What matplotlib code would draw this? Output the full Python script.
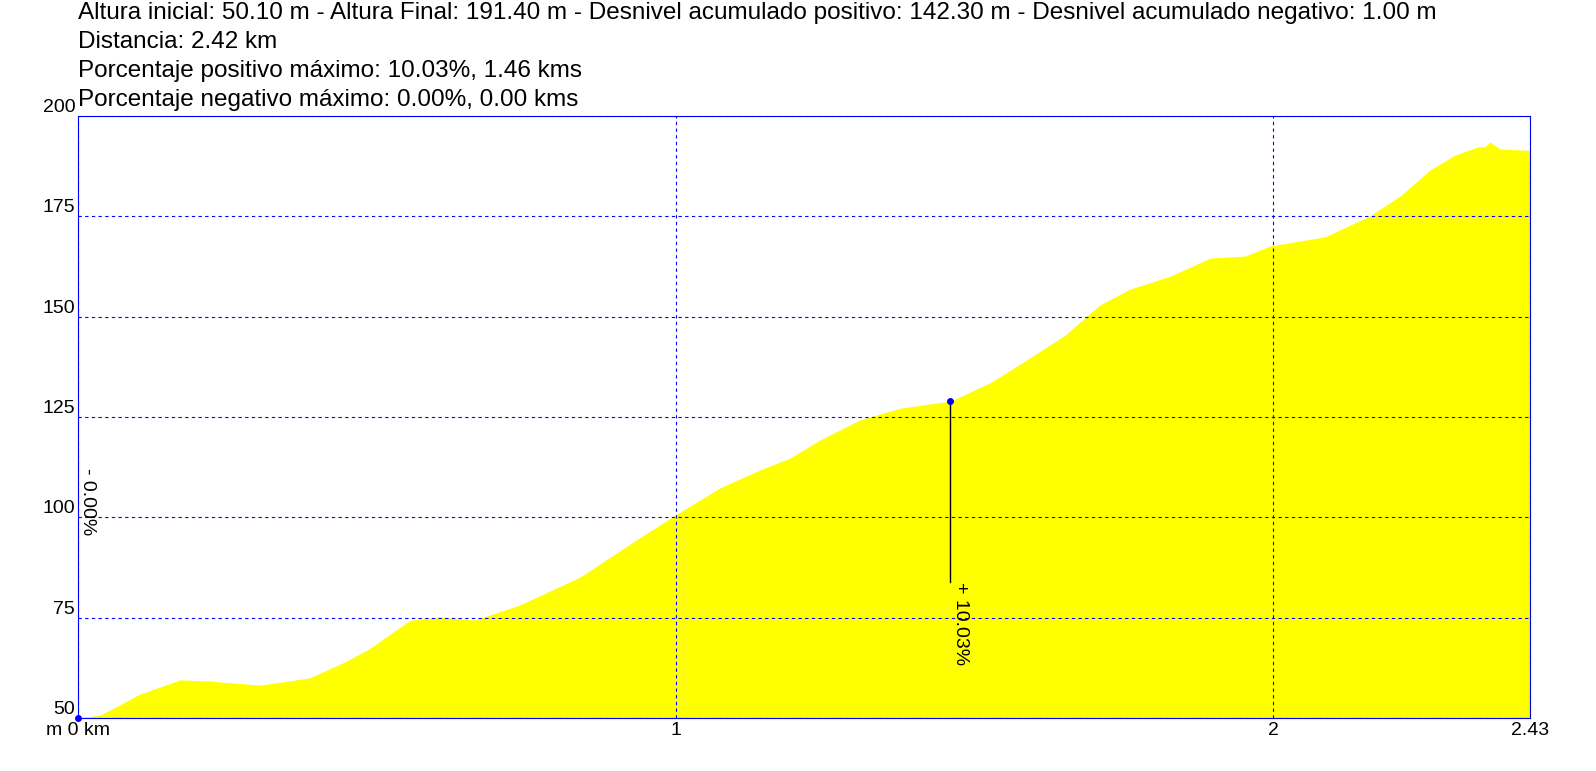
import matplotlib
matplotlib.use("Agg")
import matplotlib.pyplot as plt

plt.rcParams['font.family'] = ['Liberation Sans', 'DejaVu Sans']

dist_km = [0, 0.037, 0.104, 0.171, 0.221, 0.305, 0.388, 0.447, 0.489, 0.556, 0.606,
           0.664, 0.74, 0.84, 0.94, 1.0, 1.074, 1.141, 1.192, 1.242, 1.309, 1.376,
           1.461, 1.526, 1.577, 1.652, 1.710, 1.761, 1.828, 1.895, 1.953, 1.995,
           2.087, 2.162, 2.213, 2.263, 2.305, 2.343, 2.355, 2.363, 2.380, 2.43]
alt_m = [50, 50.7, 56, 59.5, 59.2, 58.2, 60, 64, 67.4, 74.4, 75.2,
         74.4, 78.2, 85.1, 94.9, 100.6, 107.3, 111.8, 114.8, 119.3, 124.3, 127.2,
         129, 133.5, 138.2, 145.4, 152.9, 156.9, 160.1, 164.6, 165.1, 167.6,
         169.9, 175.1, 180.1, 186.6, 190.3, 192.3, 192.4, 193.5, 191.8, 191.4]

max_pos = (1.46, 129.0, 84.0, "+ 10.03%")
max_neg = (0.0, 50.0, "- 0.00%")

header = ["Altura inicial: 50.10 m - Altura Final: 191.40 m - Desnivel acumulado positivo: 142.30 m - Desnivel acumulado negativo: 1.00 m",
          "Distancia: 2.42 km",
          "Porcentaje positivo máximo: 10.03%, 1.46 kms",
          "Porcentaje negativo máximo: 0.00%, 0.00 kms"]

fig = plt.figure(figsize=(15.96, 7.71), dpi=100)
ax = fig.add_axes([78/1596, 1-718/771, (1530-78)/1596, (718-116)/771])
ax.fill_between(dist_km, alt_m, 50, color='#ffff00', lw=0)
ax.set_xlim(0, 2.43)
ax.set_ylim(50, 200)
for s in ax.spines.values():
    s.set_color('blue')
ax.set_xticks([0, 1, 2, 2.43])
ax.set_xticklabels(["m 0 km", "1", "2", "2.43"])
ax.set_yticks([50, 75, 100, 125, 150, 175, 200])
ax.tick_params(length=0, labelsize=14, pad=2)
for lab in ax.get_yticklabels():
    lab.set_va('bottom')
ax.tick_params(axis='x', pad=3)
ax.grid(True, color='blue', ls=(0, (3, 3)), lw=0.8)
ax.set_axisbelow(False)

ax.plot([max_pos[0], max_pos[0]], [max_pos[1], max_pos[2]], color='black', lw=1)
ax.plot(max_pos[0], max_pos[1], 'o', color='blue', ms=4)
ax.text(max_pos[0] + 0.002, max_pos[2], max_pos[3], rotation=-90, va='top', ha='left', fontsize=14)
ax.plot(max_neg[0], max_neg[1], 'o', color='blue', ms=4, clip_on=False)
ax.text(0.002, 104, max_neg[2], rotation=-90, va='center', ha='left', fontsize=14)

for i, line in enumerate(header):
    fig.text(78/1596, 1-(2+i*29)/771, line, va='top', ha='left', fontsize=17.5)

fig.savefig("out.png", dpi=100)
